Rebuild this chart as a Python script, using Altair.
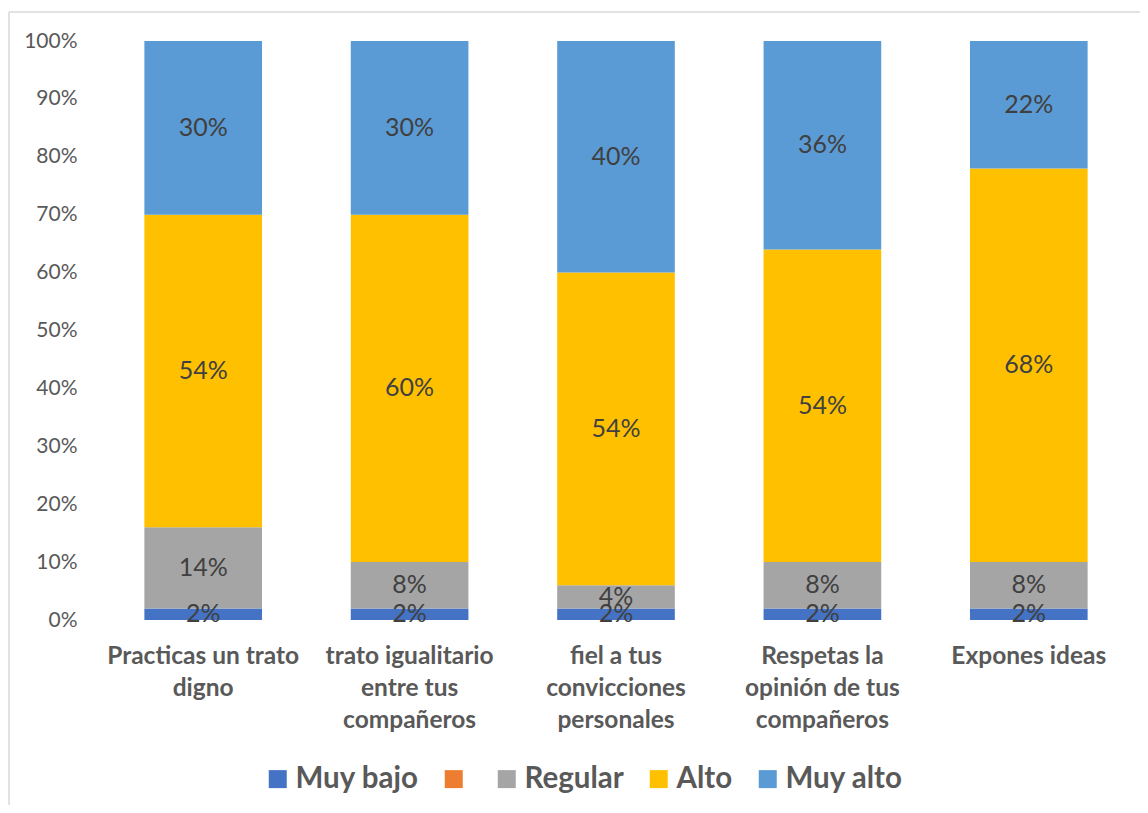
import altair as alt
import pandas as pd

categories = [
    "Practicas un trato digno",
    "trato igualitario entre tus compañeros",
    "fiel a tus convicciones personales",
    "Respetas la opinión de tus compañeros",
    "Expones ideas",
]
wrapped = [
    ["Practicas un trato", "digno"],
    ["trato igualitario", "entre tus", "compañeros"],
    ["fiel a tus", "convicciones", "personales"],
    ["Respetas la", "opinión de tus", "compañeros"],
    ["Expones ideas"],
]
series = ["Muy bajo", "Bajo", "Regular", "Alto", "Muy alto"]
colors = ["#4472C4", "#ED7D31", "#A5A5A5", "#FFC000", "#5B9BD5"]

muy_bajo = [2, 2, 2, 2, 2]
bajo = [0, 0, 0, 0, 0]
regular = [14, 8, 4, 8, 8]
alto = [54, 60, 54, 54, 68]
muy_alto = [30, 30, 40, 36, 22]

rows = []
for s_i, (s, vals) in enumerate(zip(series, [muy_bajo, bajo, regular, alto, muy_alto])):
    for c, v in zip(categories, vals):
        rows.append({"cat": c, "serie": s, "ord": s_i, "value": v})
df = pd.DataFrame(rows)

label_expr = ""
for c, w in zip(categories, wrapped):
    arr = "[" + ",".join("'" + x + "'" for x in w) + "]"
    label_expr += f"datum.label == '{c}' ? {arr} : "
label_expr += "datum.label"

FONT = "Lato"

base = alt.Chart(df).transform_stack(
    stack="value", groupby=["cat"], as_=["y0", "y1"],
    sort=[alt.SortField("ord", order="ascending")],
)

x_enc = alt.X(
    "cat:N", sort=categories, title=None,
    scale=alt.Scale(paddingInner=0.43, paddingOuter=0.215),
    axis=alt.Axis(
        labelExpr=label_expr, labelAngle=0, labelFontSize=24.5, labelFont=FONT,
        labelFontWeight="bold", labelColor="#595959", labelPadding=36,
        labelLineHeight=32, domain=False, ticks=False, labelBaseline="middle",
        labelLimit=400,
    ),
)

bars = base.mark_bar().encode(
    x=x_enc,
    y=alt.Y(
        "y0:Q", title=None,
        scale=alt.Scale(domain=[0, 100], nice=False),
        axis=alt.Axis(
            values=list(range(0, 101, 10)), labelExpr="datum.value + '%'",
            labelFontSize=21, labelFont=FONT, labelColor="#595959",
            labelPadding=23, domain=False, ticks=False, grid=False,
        ),
    ),
    y2="y1:Q",
    color=alt.Color(
        "serie:N", sort=series,
        scale=alt.Scale(domain=series, range=colors),
        legend=alt.Legend(
            title=None, orient="none", direction="horizontal",
            legendX=163, legendY=723,
            symbolType="square", symbolSize=324, symbolStrokeWidth=0,
            labelFontSize=29.5, labelFont=FONT, labelFontWeight="bold",
            labelColor="#595959", labelOffset=3, columnPadding=20,
            labelExpr="datum.label == 'Bajo' ? '' : datum.label",
        ),
    ),
)

texts = base.transform_filter("datum.value > 0").transform_calculate(
    mid="(datum.y0 + datum.y1) / 2",
    lbl="datum.value + '%'",
).mark_text(fontSize=25, font=FONT, color="#404040", baseline="middle").encode(
    x=alt.X("cat:N", sort=categories),
    y=alt.Y("mid:Q"),
    text="lbl:N",
)

border_left = alt.Chart(pd.DataFrame({"a": [0]})).mark_rule(
    color="#d9d9d9", strokeWidth=1.5, clip=False
).encode(x=alt.value(-91), y=alt.value(-29), y2=alt.value(800))
border_top = alt.Chart(pd.DataFrame({"a": [0]})).mark_rule(
    color="#d9d9d9", strokeWidth=1.5, clip=False
).encode(x=alt.value(-91), x2=alt.value(1100), y=alt.value(-29))

chart = alt.layer(border_left, border_top, bars, texts).properties(
    width=1032, height=579,
    autosize=alt.AutoSizeParams(type="none"),
    padding={"left": 92, "top": 33, "right": 8, "bottom": 185},
).configure_view(stroke=None)

chart.save("out.html", embed_options={"renderer": "svg", "actions": False})
